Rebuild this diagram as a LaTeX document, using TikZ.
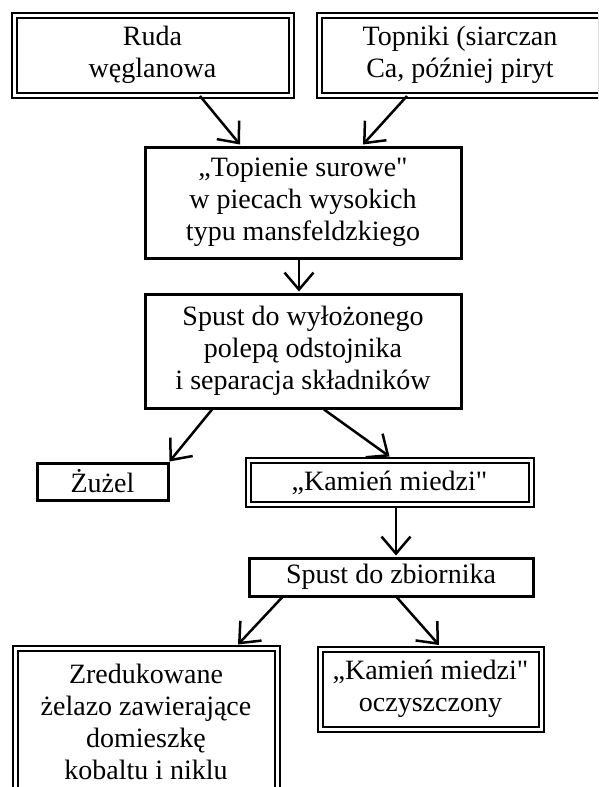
\documentclass[tikz,border=0pt]{standalone}
\usepackage{fontspec}
\newfontfamily\plainserif{Liberation Serif}
\usetikzlibrary{arrows.meta}
\begin{document}
\begin{tikzpicture}[x=1pt,y=-1pt,
  box/.style={draw, line width=3pt, inner sep=0pt, align=center, font=\plainserif\fontsize{28}{32}\selectfont},
  dbox/.style={draw, line width=2pt, double, double distance=3pt, inner sep=0pt, align=center, font=\plainserif\fontsize{28}{32}\selectfont},
  conn/.style={line width=2.5pt, -{Straight Barb[length=17pt,width=29pt]}}]
\useasboundingbox (0,0) rectangle (598,787);
\clip (0,0) rectangle (598,787);
\node[dbox, minimum width=277pt, minimum height=79.5pt] (ruda) at (152.5,55.25) {Ruda\\węglanowa};
\node[dbox, minimum width=282pt, minimum height=79.5pt] (topniki) at (460,55.25) {Topniki (siarczan\\Ca, później piryt};
\node[box, minimum width=316pt, minimum height=111pt] (topienie) at (303,202.5) {„Topienie surowe"\\w piecach wysokich\\typu mansfeldzkiego};
\node[box, minimum width=316pt, minimum height=114pt] (spust) at (303,351) {Spust do wyłożonego\\polepą odstojnika\\i separacja składników};
\node[box, minimum width=131pt, minimum height=37pt] (zuzel) at (102.5,481.5) {Żużel};
\node[dbox, minimum width=283pt, minimum height=44pt] (kamien) at (389.5,482.5) {„Kamień miedzi"};
\node[box, minimum width=284pt, minimum height=38pt] (zbiornik) at (391,577) {Spust do zbiornika};
\node[dbox, minimum width=262pt, minimum height=147pt] (zelazo) at (146,722) {Zredukowane\\żelazo zawierające\\domieszkę\\kobaltu i niklu};
\node[dbox, minimum width=221pt, minimum height=80.5pt] (czysty) at (430.5,689.25) {„Kamień miedzi"\\oczyszczony};
\draw[conn] ([xshift=47.5pt]ruda.south) -- ([xshift=-63pt,yshift=1pt]topienie.north);
\draw[conn] ([xshift=-53pt]topniki.south) -- ([xshift=60pt,yshift=1pt]topienie.north);
\draw[conn] ([xshift=-4pt]topienie.south) -- ([xshift=-4pt,yshift=1pt]spust.north);
\draw[conn] ([xshift=-91pt]spust.south) -- (zuzel.north east);
\draw[conn] ([xshift=21pt]spust.south) -- ([yshift=3pt]kamien.north);
\draw[conn] ([xshift=6.5pt]kamien.south) -- ([xshift=5pt,yshift=1pt]zbiornik.north);
\draw[conn] ([xshift=-109pt]zbiornik.south) -- ([xshift=92pt,yshift=3pt]zelazo.north);
\draw[conn] ([xshift=6pt]zbiornik.south) -- ([xshift=8.5pt,yshift=3pt]czysty.north);
\end{tikzpicture}
\end{document}
